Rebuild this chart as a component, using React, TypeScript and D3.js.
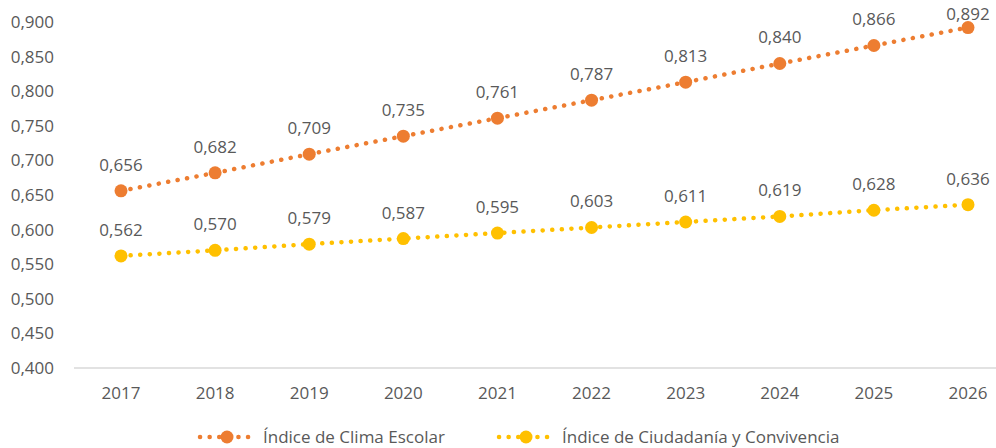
import React, { useEffect, useRef } from "react";
import * as d3 from "d3";

const years = ["2017", "2018", "2019", "2020", "2021", "2022", "2023", "2024", "2025", "2026"];
const climaEscolar = [0.656, 0.682, 0.709, 0.735, 0.761, 0.787, 0.813, 0.84, 0.866, 0.892];
const ciudadania = [0.562, 0.57, 0.579, 0.587, 0.595, 0.603, 0.611, 0.619, 0.628, 0.636];
const yTicks = [0.4, 0.45, 0.5, 0.55, 0.6, 0.65, 0.7, 0.75, 0.8, 0.85, 0.9];
const seriesNames = ["Índice de Clima Escolar", "Índice de Ciudadanía y Convivencia"];
const seriesColors = ["#ED7D31", "#FFC000"];

const FONT = "'Open Sans', sans-serif";
const TEXT = "#595959";
const FS = 17;

const fmt = (v: number) => v.toFixed(3).replace(".", ",");

export default function App() {
  const ref = useRef<SVGSVGElement>(null);

  useEffect(() => {
    const svg = d3.select(ref.current);
    svg.selectAll("*").remove();

    const x = d3.scalePoint<string>().domain(years).range([121, 968]);
    const y = d3.scaleLinear().domain([0.4, 0.9]).range([368, 22]);

    // y labels (no gridlines in the original)
    svg.append("g")
      .selectAll("text")
      .data(yTicks)
      .join("text")
      .attr("x", 54)
      .attr("y", d => y(d))
      .attr("dy", "0.35em")
      .attr("text-anchor", "end")
      .attr("font-family", FONT)
      .attr("font-size", FS)
      .attr("fill", TEXT)
      .text(d => fmt(d));

    // base axis
    svg.append("line")
      .attr("x1", 74).attr("x2", 1015)
      .attr("y1", y(0.4)).attr("y2", y(0.4))
      .attr("stroke", "#d9d9d9")
      .attr("stroke-width", 1.3);

    // x labels
    svg.append("g")
      .selectAll("text")
      .data(years)
      .join("text")
      .attr("x", d => x(d)!)
      .attr("y", 393)
      .attr("dy", "0.35em")
      .attr("text-anchor", "middle")
      .attr("font-family", FONT)
      .attr("font-size", FS)
      .attr("fill", TEXT)
      .text(d => d);

    const allSeries = [climaEscolar, ciudadania];
    const line = d3.line<number>()
      .x((d, i) => x(years[i])!)
      .y(d => y(d));

    allSeries.forEach((vals, si) => {
      const g = svg.append("g");
      g.append("path")
        .datum(vals)
        .attr("d", line)
        .attr("fill", "none")
        .attr("stroke", seriesColors[si])
        .attr("stroke-width", 4.5)
        .attr("stroke-linecap", "round")
        .attr("stroke-dasharray", "0.1 9.5");
      g.selectAll("circle")
        .data(vals)
        .join("circle")
        .attr("cx", (d, i) => x(years[i])!)
        .attr("cy", d => y(d))
        .attr("r", 6.5)
        .attr("fill", seriesColors[si]);
      // labels sit above points, kept inside the top edge
      g.selectAll("text")
        .data(vals)
        .join("text")
        .attr("x", (d, i) => x(years[i])!)
        .attr("y", d => Math.max(y(d) - 26, 14))
        .attr("dy", "0.35em")
        .attr("text-anchor", "middle")
        .attr("font-family", FONT)
        .attr("font-size", FS)
        .attr("fill", TEXT)
        .text(d => fmt(d));
    });

    // legend
    const legendX = [198, 497];
    seriesNames.forEach((name, si) => {
      const lg = svg.append("g").attr("transform", `translate(${legendX[si]},437)`);
      lg.append("line")
        .attr("x1", 2).attr("x2", 54)
        .attr("y1", 0).attr("y2", 0)
        .attr("stroke", seriesColors[si])
        .attr("stroke-width", 4.5)
        .attr("stroke-linecap", "round")
        .attr("stroke-dasharray", "0.1 9.5");
      lg.append("circle")
        .attr("cx", 29).attr("cy", 0).attr("r", 6.5)
        .attr("fill", seriesColors[si]);
      lg.append("text")
        .attr("x", 65)
        .attr("y", 0)
        .attr("dy", "0.35em")
        .attr("font-family", FONT)
        .attr("font-size", FS)
        .attr("fill", TEXT)
        .text(name);
    });
  }, []);

  return (
    <svg
      ref={ref}
      width={996}
      height={448}
      style={{ position: "absolute", left: 0, top: 0, background: "#fff" }}
    />
  );
}
